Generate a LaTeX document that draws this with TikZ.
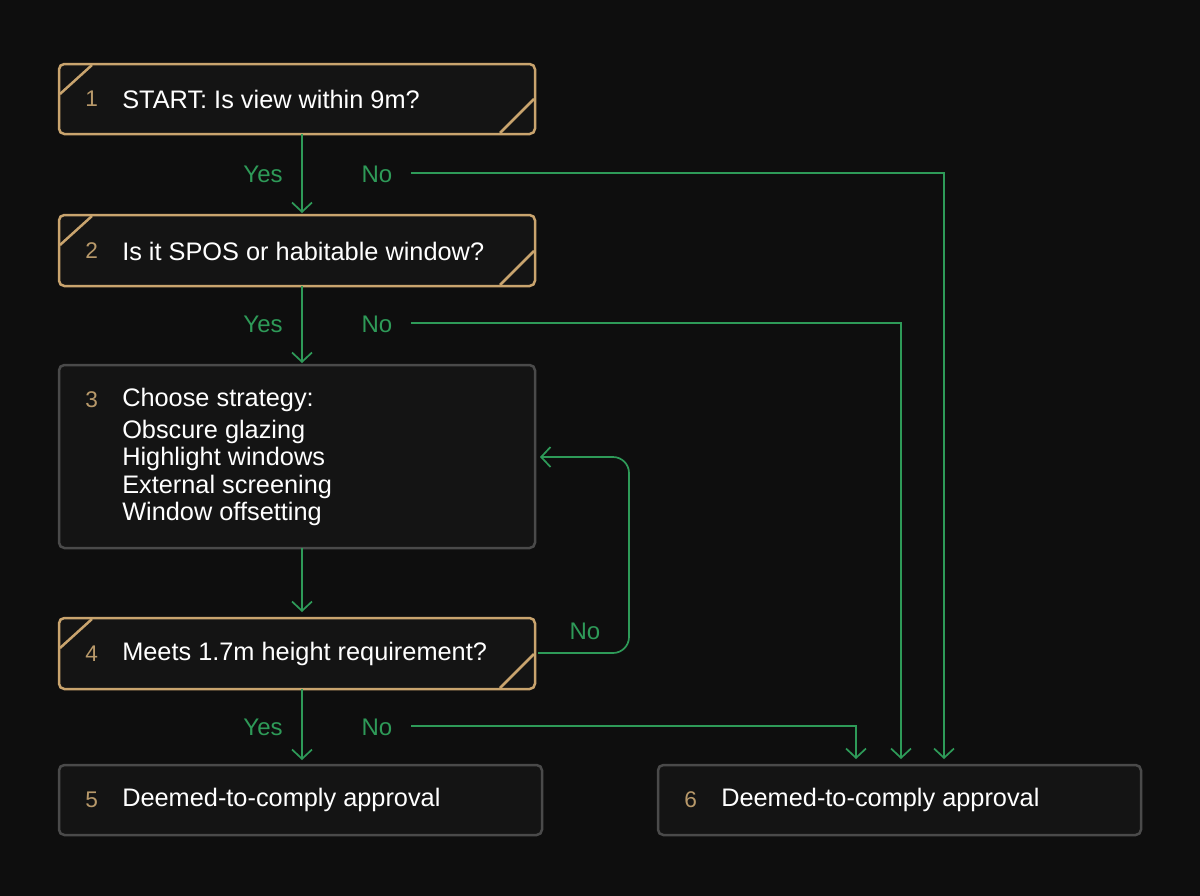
\documentclass[tikz,border=0pt]{standalone}
\usepackage{fontspec}
\setmainfont{Liberation Sans}
\usetikzlibrary{arrows.meta}
\definecolor{bg}{HTML}{0E0E0E}
\definecolor{gold}{HTML}{C9A46E}
\definecolor{grn}{HTML}{2E9A58}
\definecolor{gbox}{HTML}{4A4A4A}
\definecolor{num}{HTML}{B8996A}
\begin{document}
\begin{tikzpicture}[x=0.75pt,y=-0.75pt,
  box/.style={draw=#1,line width=2.5pt*0.75,rounded corners=4pt,fill=black!92!white},
  num/.style={text=num,font=\fontsize{17}{20}\selectfont,anchor=west,inner sep=0},
  txt/.style={text=white,font=\fontsize{19}{20}\selectfont,anchor=west,inner sep=0},
  lab/.style={text=grn,font=\fontsize{18}{20}\selectfont,inner sep=0},
  con/.style={draw=grn,line width=1.7pt*0.75,-{Straight Barb[length=7pt,width=15pt]}},
  deco/.style={draw=gold,line width=2.5pt*0.75}]
\fill[bg] (0,0) rectangle (1200,896);
\useasboundingbox (0,0) rectangle (1200,896);
% boxes
\draw[box=gold] (59,64) rectangle (535,134);
\draw[box=gold] (59,215) rectangle (535,286);
\draw[box=gbox] (59,365) rectangle (535,548);
\draw[box=gold] (59,618) rectangle (535,689);
\draw[box=gbox] (59,765) rectangle (542,835);
\draw[box=gbox] (658,765) rectangle (1141,835);
\foreach \t/\b in {64/134,215/286,618/689}{
  \draw[deco] (60,\t+30) -- (92,\t+1);
  \draw[deco] (500,\b-1) -- (534,\b-35);
}
\coordinate (b1) at (302,134); \coordinate (b2t) at (302,213);
\coordinate (b2) at (302,286); \coordinate (b3t) at (302,363);
\coordinate (b3) at (302,548); \coordinate (b4t) at (302,612);
\coordinate (b4) at (302,689); \coordinate (b5t) at (302,760);
\node[num] at (85,99) {1}; \node[txt] (t1) at (122,99) {START: Is view within 9m?};
\node[num] at (85,251) {2}; \node[txt] (t2) at (122,251) {Is it SPOS or habitable window?};
\node[num] at (85,400) {3};
\node[txt] (t3) at (122,400) {Choose strategy:};
\node[txt] (t3a) at (122,432) {Obscure glazing};
\node[txt] (t3b) at (122,459) {Highlight windows};
\node[txt] (t3c) at (122,487) {External screening};
\node[txt] (t3d) at (122,514) {Window offsetting};
\node[num] at (85,654) {4}; \node[txt] (t4) at (122,654) {Meets 1.7m height requirement?};
\node[num] at (85,800) {5}; \node[txt] (t5) at (122,800) {Deemed-to-comply approval};
\node[num] at (684,800) {6}; \node[txt] (t6) at (721,800) {Deemed-to-comply approval};
\draw[con] (b1) -- (b2t);
\draw[con] (b2) -- (b3t);
\draw[con] (b3) -- (b4t);
\draw[con] (b4) -- (b5t);
\node[lab] at (263,174) {Yes}; \node[lab] at (377,174) {No};
\node[lab] at (263,324) {Yes}; \node[lab] at (377,324) {No};
\node[lab] at (263,727) {Yes}; \node[lab] at (377,727) {No};
\node[lab] at (585,631) {No};
\coordinate (n1) at (411,173); \coordinate (n2) at (411,323); \coordinate (n3) at (411,726);
\coordinate (e1) at (944,759); \coordinate (e2) at (901,759); \coordinate (e3) at (856,759);
\draw[con] (n1) -| (e1);
\draw[con] (n2) -| (e2);
\draw[con] (n3) -| (e3);
\coordinate (l1) at (538,653); \coordinate (l2) at (540,457);
\draw[con,rounded corners=12pt] (l1) -- (629,653) -- (629,457) -- (l2);
\end{tikzpicture}
\end{document}
